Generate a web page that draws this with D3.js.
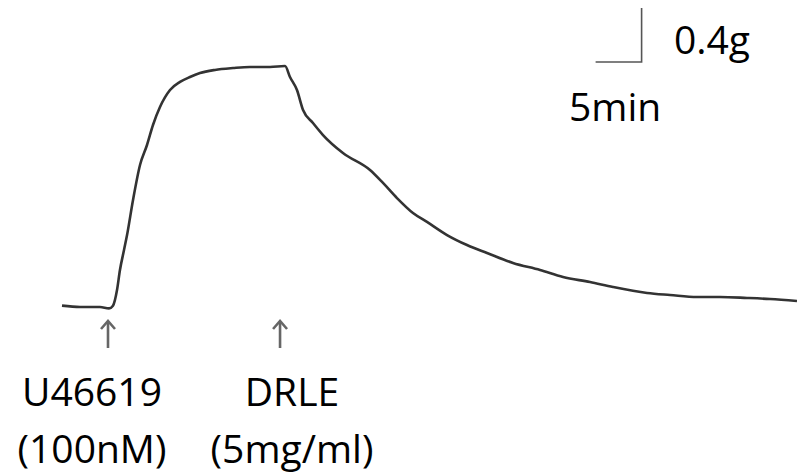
<!DOCTYPE html>
<html>
<head>
<meta charset="utf-8">
<script src="https://d3js.org/d3.v7.min.js"></script>
<style>
  body { margin: 0; background: #fff; }
  svg text { font-family: "Open Sans", sans-serif; fill: #000; }
</style>
</head>
<body>
<svg width="801" height="476"></svg>
<script>
// tension trace (min, g above baseline)
const timeMin = [0, 1.96, 4.13, 5.11, 5.54, 5.98, 6.30, 6.74, 7.07, 7.72, 8.48, 9.24, 9.89, 10.65,
  11.74, 12.83, 13.91, 15.00, 16.63, 18.59, 20.43, 22.61, 24.24, 24.78, 25.54, 26.20, 27.28,
  28.37, 30.54, 33.48, 34.89, 36.41, 38.15, 39.67, 41.85, 44.02, 46.20, 49.02, 51.96, 54.46,
  57.39, 59.89, 63.59, 66.09, 69.02, 71.52, 74.46, 76.96, 79.89];
const tension = [0.01, 0, 0, -0.01, 0.01, 0.126, 0.274, 0.422, 0.533, 0.793, 1.052, 1.200, 1.348,
  1.481, 1.607, 1.667, 1.704, 1.733, 1.756, 1.770, 1.778, 1.778, 1.785, 1.704, 1.607, 1.459,
  1.363, 1.274, 1.141, 1.015, 0.919, 0.807, 0.696, 0.630, 0.533, 0.459, 0.400, 0.326, 0.274,
  0.222, 0.185, 0.148, 0.104, 0.089, 0.074, 0.074, 0.067, 0.059, 0.044];

// drug additions
const addTimes = [5.0, 23.7];
const addNames = ["U46619", "DRLE"];
const addDoses = ["(100nM)", "(5mg/ml)"];

// scale bar
const barTime = 5, barForce = 0.4;
const barLabels = ["0.4g", "5min"];

const svg = d3.select("svg");

const x = d3.scaleLinear().domain([0, 80]).range([62, 798]);
const y = d3.scaleLinear().domain([0, 2]).range([307, 37]);

const line = d3.line()
    .x((d, i) => x(timeMin[i]))
    .y(d => y(d))
    .curve(d3.curveMonotoneX);

svg.append("path")
    .datum(tension)
    .attr("d", line)
    .attr("fill", "none")
    .attr("stroke", "#333")
    .attr("stroke-width", 2.6)
    .attr("stroke-linejoin", "round");

// scale bar (corner at 63 min, 1.815 g)
const cx = x(63), cy = y(1.815);
svg.append("path")
    .attr("d", `M${x(63 - barTime)},${cy}H${cx}V${y(1.815 + barForce)}`)
    .attr("fill", "none")
    .attr("stroke", "#555")
    .attr("stroke-width", 1.6);

svg.append("text")
    .attr("x", 674).attr("y", 54)
    .attr("font-size", 39)
    .text(barLabels[0]);
svg.append("text")
    .attr("x", 569).attr("y", 121)
    .attr("font-size", 39)
    .text(barLabels[1]);

// arrows + labels
const arrows = svg.append("g");
addTimes.forEach((t, i) => {
    const ax = x(t);
    arrows.append("line")
        .attr("x1", ax).attr("x2", ax)
        .attr("y1", 322).attr("y2", 348)
        .attr("stroke", "#666")
        .attr("stroke-width", 2.6);
    arrows.append("path")
        .attr("d", `M${ax - 7},${329}L${ax},${321}L${ax + 7},${329}`)
        .attr("fill", "none")
        .attr("stroke", "#666")
        .attr("stroke-width", 2.6);
});

const labelX = [92, 292];
addNames.forEach((n, i) => {
    svg.append("text")
        .attr("x", labelX[i]).attr("y", 406)
        .attr("text-anchor", "middle")
        .attr("font-size", 39)
        .text(n);
    svg.append("text")
        .attr("x", labelX[i]).attr("y", 463)
        .attr("text-anchor", "middle")
        .attr("font-size", 39)
        .text(addDoses[i]);
});
</script>
</body>
</html>
